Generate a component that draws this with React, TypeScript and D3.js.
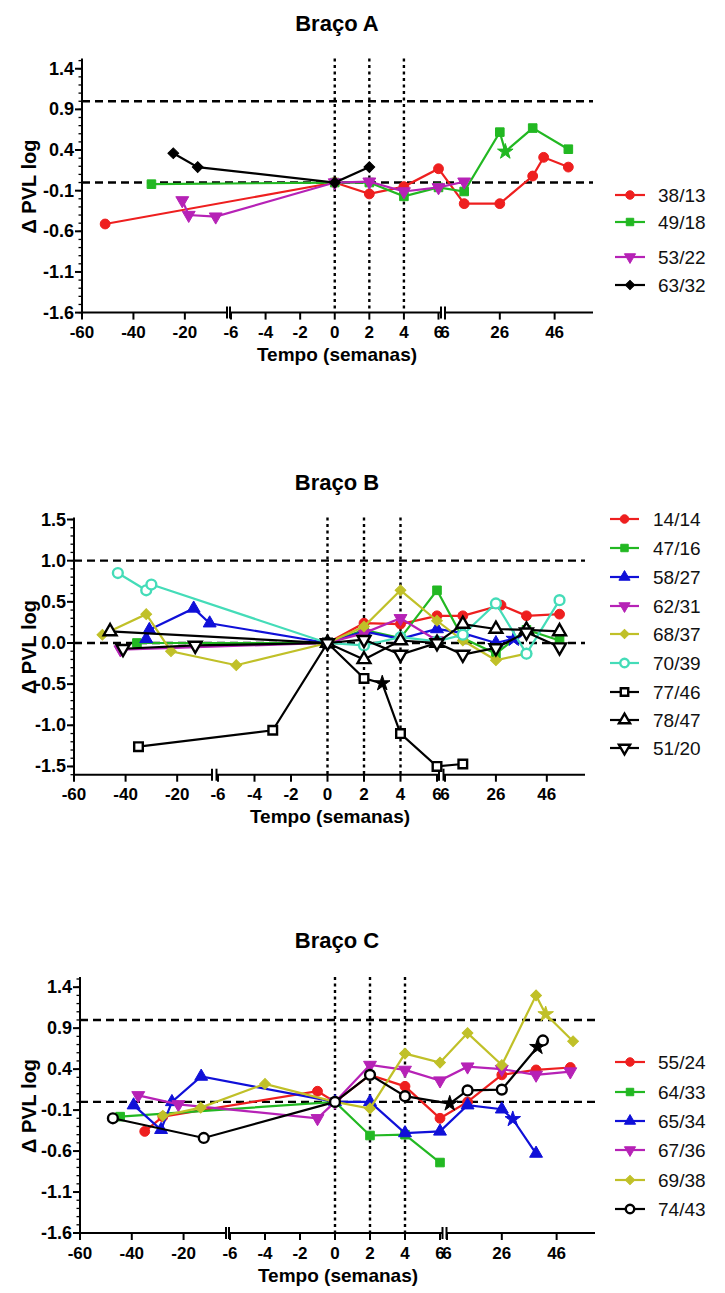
import React from "react";
import * as d3 from "d3";

type Pt = number[]; // [semana, delta, star?]

// ---------- Colours ----------
const RED = "#ee1f1f";
const GREEN = "#22b822";
const BLUE = "#1010d8";
const MAGENTA = "#b622b6";
const OLIVE = "#c0c028";
const CYAN = "#44dcb8";
const BLACK = "#000000";

// ---------- Braço A data ----------
const a_38_13: Pt[] = [[-51, -0.51], [0, 0], [2, -0.14], [4, -0.05], [6, 0.17], [13, -0.26], [26, -0.26], [38, 0.08], [42, 0.31], [51, 0.19]];
const a_49_18: Pt[] = [[-33, -0.02], [0, 0], [2, 0.0], [4, -0.17], [6, -0.06], [13, -0.11], [26, 0.62], [28, 0.38, 1], [38, 0.67], [51, 0.41]];
const a_53_22: Pt[] = [[-21, -0.22], [-18.5, -0.4], [-8, -0.42], [0, 0], [2, 0.01], [4, -0.11], [6, -0.06], [13, 0.01]];
const a_63_32: Pt[] = [[-24.5, 0.36], [-15, 0.19], [0, 0], [2, 0.19]];

// ---------- Braço B data ----------
const b_14_14: Pt[] = [[0, 0], [2, 0.24], [4, 0.23], [6, 0.33], [13, 0.33], [28, 0.46], [38, 0.33], [51, 0.35]];
const b_47_16: Pt[] = [[-35.6, 0.0], [0, 0], [2, 0.16], [4, 0.06], [6, 0.64], [13, 0.06], [26, -0.13], [38, 0.16], [51, 0.03]];
const b_58_27: Pt[] = [[-32, 0.05], [-30.8, 0.16], [-13.6, 0.42], [-7.4, 0.24], [0, 0], [2, 0.14], [4, 0.05], [6, 0.17], [13, 0.12], [26, 0.0], [33, 0.05, 1]];
const b_62_31: Pt[] = [[-42, -0.08], [0, 0], [2, 0.12], [4, 0.3], [6, 0.03]];
const b_68_37: Pt[] = [[-49, 0.1], [-32, 0.35], [-22.4, -0.1], [-5, -0.27], [0, 0], [2, 0.2], [4, 0.64], [6, 0.27], [13, 0.03], [26, -0.21], [38, -0.13]];
const b_70_39: Pt[] = [[-43, 0.85], [-32, 0.64], [-30, 0.71], [0, 0], [2, -0.03], [4, 0.07], [6, 0.02], [13, 0.1], [26, 0.48], [38, -0.13], [51, 0.52]];
const b_77_46: Pt[] = [[-35, -1.26], [-3, -1.06], [0, 0], [2, -0.43], [3, -0.49, 1], [4, -1.1], [6, -1.5], [13, -1.47]];
const b_78_47: Pt[] = [[-46, 0.14], [0, 0], [2, -0.2], [4, 0.03], [6, 0.0], [13, 0.23], [26, 0.17], [38, 0.16], [51, 0.14]];
const b_51_20: Pt[] = [[-41, -0.07], [-13, -0.03], [0, 0], [2, 0.04], [4, -0.14], [6, 0.0], [13, -0.14], [26, -0.06], [38, 0.13], [51, -0.05]];

// ---------- Braço C data ----------
const c_55_24: Pt[] = [[-35, -0.36], [-28, -0.18], [-1, 0.13], [0, 0], [2, 0.33], [4, 0.19], [6, -0.2], [13.5, 0.0], [26, 0.33], [38.5, 0.39], [51, 0.42]];
const c_64_33: Pt[] = [[-44.5, -0.18], [0, 0], [2, -0.41], [4, -0.4], [6, -0.74]];
const c_65_34: Pt[] = [[-39.3, -0.04], [-28.7, -0.34], [-24.5, 0.0], [-13.2, 0.31], [0, 0], [2, 0.0], [4, -0.38], [6, -0.36], [13.5, -0.04], [26, -0.09], [30, -0.21, 1], [38.5, -0.63]];
const c_67_36: Pt[] = [[-37.5, 0.08], [-22, -0.03], [-1, -0.2], [0, 0], [2, 0.45], [4, 0.39], [6, 0.26], [13.5, 0.43], [26, 0.4], [38.5, 0.33], [51, 0.37]];
const c_69_38: Pt[] = [[-28, -0.17], [-13.4, -0.07], [-4, 0.22], [0, 0], [2, -0.08], [4, 0.59], [6, 0.48], [13.5, 0.84], [26, 0.45], [38.5, 1.3], [42, 1.07, 1], [52, 0.74]];
const c_74_43: Pt[] = [[-47.3, -0.2], [-12.2, -0.44], [0, 0], [2, 0.33], [4, 0.07], [7, -0.02, 1], [13.5, 0.14], [26, 0.15], [39, 0.67, 1], [41, 0.75]];

// ---------- Tick labels ----------
const xTicksSeg1 = [-60, -40, -20];
const xTicksSeg2 = [-6, -4, -2, 0, 2, 4, 6];
const xTicksSeg3 = [6, 26, 46];
const yTicksAC = [-1.6, -1.1, -0.6, -0.1, 0.4, 0.9, 1.4];
const yTicksB = [-1.5, -1.0, -0.5, 0.0, 0.5, 1.0, 1.5];
const refLinesY = [1, 0];
const refLinesX = [0, 2, 4];

type Series = { name: string; color: string; shape: string; open: boolean; data: Pt[] };

const seriesA: Series[] = [
  { name: "38/13", color: RED, shape: "circle", open: false, data: a_38_13 },
  { name: "49/18", color: GREEN, shape: "square", open: false, data: a_49_18 },
  { name: "53/22", color: MAGENTA, shape: "triDown", open: false, data: a_53_22 },
  { name: "63/32", color: BLACK, shape: "diamond", open: false, data: a_63_32 },
];
const seriesB: Series[] = [
  { name: "14/14", color: RED, shape: "circle", open: false, data: b_14_14 },
  { name: "47/16", color: GREEN, shape: "square", open: false, data: b_47_16 },
  { name: "58/27", color: BLUE, shape: "triUp", open: false, data: b_58_27 },
  { name: "62/31", color: MAGENTA, shape: "triDown", open: false, data: b_62_31 },
  { name: "68/37", color: OLIVE, shape: "diamond", open: false, data: b_68_37 },
  { name: "70/39", color: CYAN, shape: "circle", open: true, data: b_70_39 },
  { name: "77/46", color: BLACK, shape: "square", open: true, data: b_77_46 },
  { name: "78/47", color: BLACK, shape: "triUp", open: true, data: b_78_47 },
  { name: "51/20", color: BLACK, shape: "triDown", open: true, data: b_51_20 },
];
const seriesC: Series[] = [
  { name: "55/24", color: RED, shape: "circle", open: false, data: c_55_24 },
  { name: "64/33", color: GREEN, shape: "square", open: false, data: c_64_33 },
  { name: "65/34", color: BLUE, shape: "triUp", open: false, data: c_65_34 },
  { name: "67/36", color: MAGENTA, shape: "triDown", open: false, data: c_67_36 },
  { name: "69/38", color: OLIVE, shape: "diamond", open: false, data: c_69_38 },
  { name: "74/43", color: BLACK, shape: "circle", open: true, data: c_74_43 },
];

type Seg = { d: [number, number]; r: [number, number]; a: [number, number] };
type PanelCfg = {
  title: string;
  titleY: number;
  yTop: number;
  yBot: number;
  axisX: number;
  plotRight: number;
  segs: Seg[];
  yTicks: number[];
  yFmt: (v: number) => string;
  xTitleX: number;
  legendLine: [number, number];
  legendText: number;
  legendRows: number[];
  series: Series[];
};

const panels: PanelCfg[] = [
  {
    title: "Braço A", titleY: 23, yTop: 60.6, yBot: 312.6, axisX: 82, plotRight: 593,
    segs: [
      { d: [-60, -4], r: [82, 226], a: [82, 227] },
      { d: [-6, 6], r: [231, 438.5], a: [230, 441] },
      { d: [6, 60], r: [445, 593], a: [445, 593] },
    ],
    yTicks: yTicksAC, yFmt: (v) => v.toFixed(1), xTitleX: 337,
    legendLine: [615, 645], legendText: 658, legendRows: [195, 222, 257, 285], series: seriesA,
  },
  {
    title: "Braço B", titleY: 482, yTop: 519.5, yBot: 774.7, axisX: 74, plotRight: 585,
    segs: [
      { d: [-60, -6.5], r: [74, 212], a: [74, 212] },
      { d: [-6, 6], r: [218, 437], a: [216.5, 439] },
      { d: [6, 61], r: [445, 585], a: [443.5, 585] },
    ],
    yTicks: yTicksB, yFmt: (v) => v.toFixed(1), xTitleX: 330,
    legendLine: [610, 639], legendText: 653, legendRows: [519, 548, 577, 606, 634, 663, 692, 720, 748], series: seriesB,
  },
  {
    title: "Braço C", titleY: 940, yTop: 979, yBot: 1233, axisX: 80, plotRight: 595,
    segs: [
      { d: [-60, -4], r: [80, 225], a: [80, 226] },
      { d: [-6, 6], r: [230, 440], a: [229, 442.5] },
      { d: [6, 60], r: [447, 595], a: [446.5, 595] },
    ],
    yTicks: yTicksAC, yFmt: (v) => v.toFixed(1), xTitleX: 338,
    legendLine: [615, 645], legendText: 658, legendRows: [1062, 1092, 1121, 1150, 1180, 1209], series: seriesC,
  },
];

const FONT = "'Liberation Sans', Arial, Helvetica, sans-serif";

function symbolFor(shape: string, open: boolean, star: boolean, k0: number): { d: string; rot: number } {
  if (star) return { d: d3.symbol().type(d3.symbolStar).size(75 * k0)() as string, rot: 0 };
  const k = (open ? 1.0 : 1) * k0;
  switch (shape) {
    case "circle":
      return { d: d3.symbol().type(d3.symbolCircle).size(76 * k)() as string, rot: 0 };
    case "square":
      return { d: d3.symbol().type(d3.symbolSquare).size(74 * k)() as string, rot: 0 };
    case "triUp":
      return { d: d3.symbol().type(d3.symbolTriangle).size(72 * k)() as string, rot: 0 };
    case "triDown":
      return { d: d3.symbol().type(d3.symbolTriangle).size(72 * k)() as string, rot: 180 };
    case "diamond":
      return { d: d3.symbol().type(d3.symbolSquare).size(58 * k)() as string, rot: 45 };
    default:
      return { d: d3.symbol().type(d3.symbolCircle).size(76 * k)() as string, rot: 0 };
  }
}

function Marker({ x, y, s, star, scale = 1 }: { x: number; y: number; s: Series; star?: boolean; scale?: number }) {
  const sym = symbolFor(s.shape, s.open, !!star, scale);
  const open = s.open && !star;
  return (
    <path
      d={sym.d}
      transform={`translate(${x},${y}) rotate(${sym.rot})`}
      fill={open ? "#ffffff" : s.color}
      stroke={s.color}
      strokeWidth={open ? 2.4 : 1}
      strokeLinejoin="miter"
    />
  );
}

function Panel({ cfg }: { cfg: PanelCfg }) {
  const y = d3.scaleLinear().domain([-1.6, 1.5]).range([cfg.yBot, cfg.yTop]);
  const sc = cfg.segs.map((s) => d3.scaleLinear().domain(s.d).range(s.r));
  const x = (v: number) => (v < -6 ? sc[0](v) : v <= 6 ? sc[1](v) : sc[2](v));
  const line = d3
    .line<Pt>()
    .x((d) => x(d[0]))
    .y((d) => y(d[1]));
  const minor = d3.range(-16, 16).map((i) => i / 10);
  const axisY = cfg.yBot;
  const midY = (cfg.yTop + cfg.yBot) / 2;

  return (
    <g>
      <text x={337} y={cfg.titleY} textAnchor="middle" dominantBaseline="central" fontFamily={FONT} fontWeight="bold" fontSize={22}>
        {cfg.title}
      </text>

      {/* reference lines */}
      {refLinesY.map((v) => (
        <line key={"h" + v} x1={cfg.axisX} x2={cfg.plotRight} y1={y(v)} y2={y(v)} stroke="#000" strokeWidth={2.4} strokeDasharray="8,5" />
      ))}
      {refLinesX.map((v) => (
        <line key={"v" + v} x1={x(v)} x2={x(v)} y1={cfg.yTop - 2} y2={axisY} stroke="#000" strokeWidth={2.4} strokeDasharray="3,3.5" />
      ))}

      {/* y axis */}
      <line x1={cfg.axisX} x2={cfg.axisX} y1={cfg.yTop - 2} y2={axisY} stroke="#000" strokeWidth={2} />
      {minor.map((v) => (
        <line key={"m" + v} x1={cfg.axisX - 3.5} x2={cfg.axisX} y1={y(v)} y2={y(v)} stroke="#000" strokeWidth={1.3} />
      ))}
      {cfg.yTicks.map((v) => (
        <g key={"yt" + v}>
          <line x1={cfg.axisX - 7} x2={cfg.axisX} y1={y(v)} y2={y(v)} stroke="#000" strokeWidth={2} />
          <text x={cfg.axisX - 8} y={y(v)} textAnchor="end" dominantBaseline="central" fontFamily={FONT} fontWeight="bold" fontSize={18}>
            {cfg.yFmt(v)}
          </text>
        </g>
      ))}
      <text
        transform={`translate(${29},${midY}) rotate(-90)`}
        textAnchor="middle"
        dominantBaseline="central"
        fontFamily={FONT}
        fontWeight="bold"
        fontSize={20}
      >
        Δ PVL log
      </text>

      {/* x axis segments with breaks */}
      {cfg.segs.map((s, i) => (
        <g key={"seg" + i}>
          <line x1={s.a[0]} x2={s.a[1]} y1={axisY} y2={axisY} stroke="#000" strokeWidth={2} />
          {i > 0 && <line x1={s.a[0]} x2={s.a[0]} y1={axisY - 6} y2={axisY + 6} stroke="#000" strokeWidth={2} />}
          {i < 2 && <line x1={s.a[1]} x2={s.a[1]} y1={axisY - 6} y2={axisY + 6} stroke="#000" strokeWidth={2} />}
        </g>
      ))}
      {[xTicksSeg1, xTicksSeg2, xTicksSeg3].map((ticks, i) =>
        ticks.map((t) => {
          const px = sc[i](t);
          return (
            <g key={"xt" + i + "_" + t}>
              <line x1={px} x2={px} y1={axisY} y2={axisY + 7} stroke="#000" strokeWidth={2} />
              <text x={px} y={axisY + 20} textAnchor="middle" dominantBaseline="central" fontFamily={FONT} fontWeight="bold" fontSize={17}>
                {String(t)}
              </text>
            </g>
          );
        })
      )}
      <text x={cfg.xTitleX} y={axisY + 42} textAnchor="middle" dominantBaseline="central" fontFamily={FONT} fontWeight="bold" fontSize={19}>
        Tempo (semanas)
      </text>

      {/* series */}
      {cfg.series.map((s) => (
        <g key={s.name}>
          <path d={line(s.data) || ""} fill="none" stroke={s.color} strokeWidth={2.2} />
          {s.data.map((d, j) => (
            <Marker key={j} x={x(d[0])} y={y(d[1])} s={s} star={d[2] === 1} />
          ))}
        </g>
      ))}

      {/* legend */}
      {cfg.series.map((s, i) => {
        const ly = cfg.legendRows[i];
        const [l1, l2] = cfg.legendLine;
        return (
          <g key={"lg" + s.name}>
            <line x1={l1} x2={l2} y1={ly} y2={ly} stroke={s.color} strokeWidth={2.2} />
            <Marker x={(l1 + l2) / 2} y={ly} s={s} scale={0.75} />
            <text x={cfg.legendText} y={ly} dominantBaseline="central" fontFamily={FONT} fontSize={19} fill="#111">
              {s.name}
            </text>
          </g>
        );
      })}
    </g>
  );
}

export default function App() {
  return (
    <svg
      width={725}
      height={1293}
      viewBox="0 0 725 1293"
      style={{ position: "absolute", left: 0, top: 0, background: "#fff" }}
    >
      <rect x={0} y={0} width={725} height={1293} fill="#fff" />
      {panels.map((p) => (
        <Panel key={p.title} cfg={p} />
      ))}
    </svg>
  );
}
